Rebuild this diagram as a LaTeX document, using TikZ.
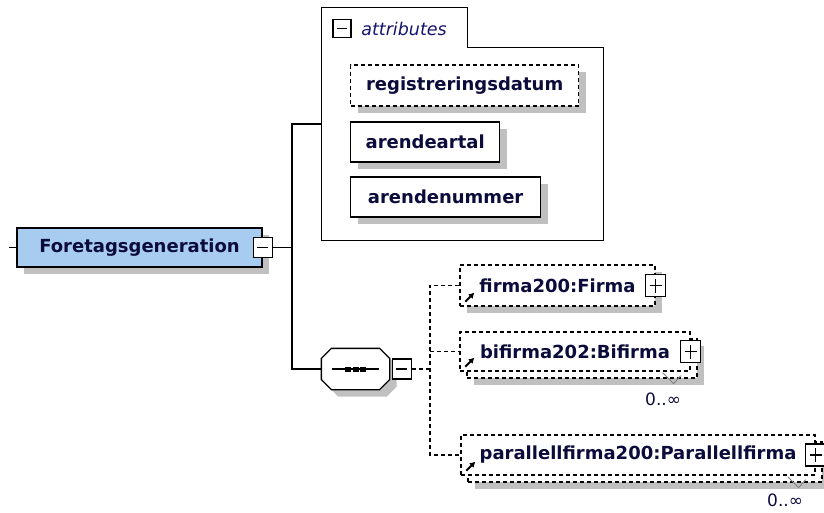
\documentclass[tikz,border=0pt]{standalone}
\usepackage{fontspec}
\setmainfont{DejaVu Sans}
\usetikzlibrary{arrows.meta,positioning,shadows}

\definecolor{rootblue}{RGB}{168,204,240}
\definecolor{shadowgray}{RGB}{192,192,192}
\definecolor{nametext}{RGB}{12,12,60}
\definecolor{attrtext}{RGB}{20,20,110}

\begin{document}
\begin{tikzpicture}[x=1pt,y=-1pt,line width=1.3pt,
  boxshadow/.style={drop shadow={shadow xshift=7pt,shadow yshift=-7pt,fill=shadowgray,opacity=1}},
  elem/.style={draw,fill=white,minimum height=40pt,inner sep=0pt,text=nametext,font=\fontsize{18}{20}\selectfont\bfseries},
  optelem/.style={elem,dash pattern=on 4pt off 3pt},
  dashline/.style={dash pattern=on 4pt off 3pt},
  minusbox/.style={draw,fill=white,minimum width=19pt,minimum height=20pt,inner sep=0pt,
    path picture={\draw[line width=1.6pt] ([xshift=4pt]path picture bounding box.west) -- ([xshift=-4pt]path picture bounding box.east);}},
  plusbox/.style={minusbox,minimum width=20pt,minimum height=22pt,
    path picture={\draw[line width=1.6pt] ([xshift=4pt]path picture bounding box.west) -- ([xshift=-4pt]path picture bounding box.east)
      ([yshift=-4pt]path picture bounding box.north) -- ([yshift=4pt]path picture bounding box.south);}},
  refarrow/.style={line width=2pt,-{Latex[length=5.5pt,width=6.5pt]}},
  notch/.style={line width=0.9pt,gray},
  multlabel/.style={text=nametext,font=\fontsize{17}{19}\selectfont,inner sep=0pt}]
\useasboundingbox (0,0) rectangle (824,512);

% Root element
\node[elem,fill=rootblue,boxshadow,minimum width=245pt,minimum height=39pt] (root) at (139.5,247.5) {Foretagsgeneration};
\node[minusbox] (mroot) at (root.east) {};
\coordinate (rootin) at (9,247.5);
\coordinate (split) at (292,247.5);
\draw (rootin) -- (root.west);
\draw (mroot.east) -- (split);

% Attribute group
\node[minimum width=281pt,minimum height=232pt,inner sep=0pt] (attrs) at (462.5,124) {};
\node[minimum width=145pt,minimum height=39pt,inner sep=0pt,anchor=north west] (attrtab) at (attrs.north west) {};
\draw (attrs.south west) -- (attrs.north west) -- (attrtab.north east) -- (attrtab.south east)
  -- (attrtab.south east -| attrs.east) -- (attrs.south east) -- cycle;
\node[minusbox,minimum width=18pt,minimum height=18pt] (mattrs) at (342,28.5) {};
\node[right=9pt of mattrs,inner sep=0pt,text=attrtext,font=\fontsize{17.5}{19}\selectfont\itshape] (attrlabel) {attributes};

\node[optelem,boxshadow,minimum width=228pt,minimum height=41pt,anchor=west] (regdatum) at (350,85.5) {registreringsdatum};
\node[elem,boxshadow,minimum width=149pt,anchor=west] (artal) at (350,142) {arendeartal};
\node[elem,boxshadow,minimum width=190pt,anchor=west] (anummer) at (350,197) {arendenummer};

% Sequence compositor
\node[minimum width=67pt,minimum height=40pt,inner sep=0pt] (seq) at (355.5,369) {};
\fill[shadowgray,transform canvas={shift={(7pt,-7pt)}}] ([xshift=10pt]seq.north west) -- ([xshift=-10pt]seq.north east)
  -- ([yshift=-10pt]seq.north east) -- ([yshift=10pt]seq.south east) -- ([xshift=-10pt]seq.south east)
  -- ([xshift=10pt]seq.south west) -- ([yshift=10pt]seq.south west) -- ([yshift=-10pt]seq.north west) -- cycle;
\draw[fill=white] ([xshift=10pt]seq.north west) -- ([xshift=-10pt]seq.north east)
  -- ([yshift=-10pt]seq.north east) -- ([yshift=10pt]seq.south east) -- ([xshift=-10pt]seq.south east)
  -- ([xshift=10pt]seq.south west) -- ([yshift=10pt]seq.south west) -- ([yshift=-10pt]seq.north west) -- cycle;
\draw ([xshift=11pt]seq.west) -- ([xshift=-11pt]seq.east);
\foreach \dx in {-7.5,0,7.5}
  \fill ([xshift=\dx pt]seq.center) ++(-3,-2.5) rectangle ++(6,5);
\node[minusbox,right=2pt of seq] (mseq) {};
\draw (attrs.west) -| (split) |- (seq.west);
\coordinate (choice) at (430,369);
\draw[dashline] (mseq.east) -- (choice);

% Child elements
\node[optelem,boxshadow,minimum width=195pt,minimum height=41pt] (firma) at (557.5,285.5) {firma200:Firma};
\node[plusbox] (pfirma) at (firma.east) {};
\draw[refarrow] ([shift={(6,-5)}]firma.south west) -- ++(9,-9);

\node[optelem,boxshadow,minimum width=230pt,minimum height=39pt] (bifback) at (582,358.5) {};
\node[optelem,minimum width=230pt,minimum height=39pt] (bifirma) at (575,351.5) {bifirma202:Bifirma};
\node[plusbox] (pbif) at (bifirma.east) {};
\draw[refarrow] ([shift={(6,-5)}]bifirma.south west) -- ++(9,-9);
\draw[notch] ([shift={(-35,-6)}]bifback.south east) -- ++(11,11) -- ++(7,-8);
\node[multlabel,anchor=north east] (bifmult) at ([shift={(-16,14)}]bifback.south east) {0..∞};

\node[optelem,boxshadow,minimum width=354pt] (parback) at (645,462) {};
\node[optelem,minimum width=354pt] (parallell) at (638,455) {parallellfirma200:Parallellfirma};
\node[plusbox] (ppar) at (parallell.east) {};
\draw[refarrow] ([shift={(6,-5)}]parallell.south west) -- ++(9,-9);
\draw[notch] ([shift={(-35,-6)}]parback.south east) -- ++(11,11) -- ++(7,-8);
\node[multlabel,anchor=north east] (parmult) at ([shift={(-19,11)}]parback.south east) {0..∞};

% Connectors to children
\draw[dashline] (firma.west) -| (choice) |- (parallell.west);
\draw[dashline] (choice |- bifirma.west) -- (bifirma.west);
\end{tikzpicture}
\end{document}
